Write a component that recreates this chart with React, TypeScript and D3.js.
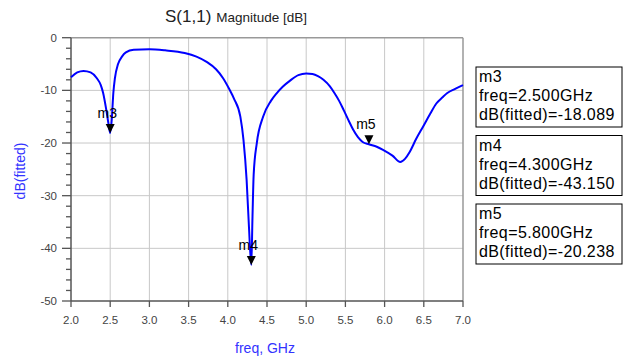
import React from "react";
import * as d3 from "d3";

const freq = [
  2.0, 2.08, 2.16, 2.25, 2.33, 2.38, 2.41, 2.45, 2.48, 2.5, 2.52, 2.54, 2.56, 2.6, 2.65, 2.7, 2.8,
  3.0, 3.2, 3.45, 3.6, 3.73, 3.85, 3.94, 4.02, 4.08, 4.16, 4.2, 4.24, 4.27, 4.3, 4.315, 4.33,
  4.37, 4.45, 4.55, 4.62, 4.7, 4.79, 4.9, 5.0, 5.08, 5.15, 5.22, 5.3, 5.36, 5.42, 5.48, 5.55,
  5.6, 5.66, 5.72, 5.8, 5.9, 5.98, 6.1, 6.2, 6.26, 6.32, 6.4, 6.49, 6.58, 6.66, 6.74, 6.8, 6.9, 7.0,
];
const dbFitted = [
  -7.5, -6.6, -6.3, -6.6, -7.7, -9.0, -10.5, -13.7, -16.5, -18.09, -15.5, -10.5, -7.7, -5.0, -3.6,
  -2.8, -2.3, -2.2, -2.4, -2.9, -3.6, -4.6, -6.0, -7.7, -9.8, -11.6, -15.0, -19.4, -27.0, -36.0,
  -43.15, -34.0, -26.0, -20.0, -15.0, -12.0, -10.6, -9.3, -8.2, -7.1, -6.8, -6.9, -7.3, -8.0,
  -9.2, -10.5, -12.0, -13.8, -16.0, -17.5, -18.9, -19.8, -20.24, -20.7, -21.3, -22.4, -23.6,
  -23.0, -21.7, -19.3, -16.9, -14.5, -12.5, -11.3, -10.5, -9.7, -9.0,
];

const markerNames = ["m3", "m4", "m5"];
const markerFreq = [2.5, 4.3, 5.8];
const markerDb = [-18.089, -43.15, -20.238];

const xTicks = [2.0, 2.5, 3.0, 3.5, 4.0, 4.5, 5.0, 5.5, 6.0, 6.5, 7.0];
const yTicks = [0, -10, -20, -30, -40, -50];
const yMinor = d3.range(-48, 0, 2).filter((v) => v % 10 !== 0);

const font = "'Liberation Sans', Arial, sans-serif";

export default function App() {
  const x = d3.scaleLinear().domain([2, 7]).range([71, 463]);
  const y = d3.scaleLinear().domain([-50, 0]).range([301, 37.7]);

  const pts = freq.map((f, i) => [f, dbFitted[i]] as [number, number]);
  const line = d3
    .line<[number, number]>()
    .x((d) => x(d[0]))
    .y((d) => y(d[1]))
    .curve(d3.curveMonotoneX);

  return (
    <svg
      width={632}
      height={363}
      style={{ position: "absolute", left: 0, top: 0, background: "#fff" }}
      fontFamily={font}
    >
      {/* grid */}
      {xTicks.slice(1, -1).map((t) => (
        <line key={"gx" + t} x1={x(t)} x2={x(t)} y1={y(0)} y2={y(-50)} stroke="#c8c8c8" />
      ))}
      {yTicks.slice(1, -1).map((t) => (
        <line key={"gy" + t} x1={x(2)} x2={x(7)} y1={y(t)} y2={y(t)} stroke="#c8c8c8" />
      ))}

      {/* frame */}
      <line x1={x(2)} x2={x(7)} y1={y(0)} y2={y(0)} stroke="#999" strokeWidth={1.5} />
      <line x1={x(7)} x2={x(7)} y1={y(0)} y2={y(-50)} stroke="#999" strokeWidth={1.5} />
      <line x1={x(2)} x2={x(2)} y1={y(0)} y2={y(-50)} stroke="#555" strokeWidth={1.5} />
      <line x1={x(2)} x2={x(7)} y1={y(-50)} y2={y(-50)} stroke="#555" strokeWidth={1.5} />

      {/* y ticks */}
      {yTicks.map((t) => (
        <g key={"yt" + t}>
          <line x1={x(2) - 9} x2={x(2)} y1={y(t)} y2={y(t)} stroke="#555" strokeWidth={1.3} />
          <text x={x(2) - 14} y={y(t) + 4} textAnchor="end" fontSize={11.5} fill="#444">
            {t}
          </text>
        </g>
      ))}
      {yMinor.map((t) => (
        <line key={"ym" + t} x1={x(2) - 5} x2={x(2)} y1={y(t)} y2={y(t)} stroke="#555" strokeWidth={1.3} />
      ))}

      {/* x ticks */}
      {xTicks.map((t) => (
        <g key={"xt" + t}>
          <line x1={x(t)} x2={x(t)} y1={y(-50)} y2={y(-50) + 6} stroke="#555" strokeWidth={1.3} />
          <text x={x(t)} y={y(-50) + 23} textAnchor="middle" fontSize={11.5} fill="#444">
            {t.toFixed(1)}
          </text>
        </g>
      ))}

      {/* curve */}
      <path d={line(pts) ?? ""} fill="none" stroke="#0000ff" strokeWidth={2} />

      {/* markers */}
      {markerNames.map((m, i) => {
        const mx = x(markerFreq[i]);
        const my = y(markerDb[i]);
        return (
          <g key={m}>
            <path d={`M${mx},${my} L${mx - 4.5},${my - 9} L${mx + 4.5},${my - 9} Z`} fill="#000" />
            <text x={mx - 3} y={my - 15} textAnchor="middle" fontSize={14} fill="#000">
              {m}
            </text>
          </g>
        );
      })}

      {/* title */}
      <text x={165} y={22} fill="#222">
        <tspan fontSize={17}>S(1,1)</tspan>
        <tspan fontSize={13.5} dx={5}>
          Magnitude [dB]
        </tspan>
      </text>

      {/* axis labels */}
      <text x={265} y={353} textAnchor="middle" fontSize={14} fill="#3333ff">
        freq, GHz
      </text>
      <text transform="translate(25,171) rotate(-90)" textAnchor="middle" fontSize={14} fill="#3333ff">
        dB(fitted)
      </text>

      {/* marker readouts */}
      {markerNames.map((m, i) => {
        const by = 67 + i * 68.5;
        return (
          <g key={"box" + m}>
            <rect x={476} y={by} width={146} height={60} fill="#fff" stroke="#000" />
            <text x={479} y={by + 15} fontSize={16} letterSpacing={0.4} fill="#000">
              {m}
            </text>
            <text x={479} y={by + 34} fontSize={16} letterSpacing={0.4} fill="#000">
              {`freq=${markerFreq[i].toFixed(3)}GHz`}
            </text>
            <text x={479} y={by + 53} fontSize={16} letterSpacing={0.4} fill="#000">
              {`dB(fitted)=${markerDb[i].toFixed(3)}`}
            </text>
          </g>
        );
      })}
    </svg>
  );
}
